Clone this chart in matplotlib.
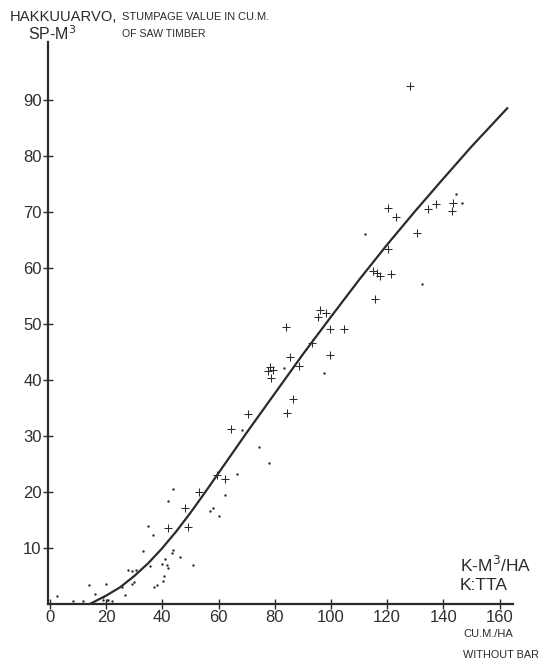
import matplotlib

matplotlib.use("Agg")
import matplotlib.pyplot as plt

plt.rcParams["font.family"] = ["Liberation Sans", "DejaVu Sans"]

# Stands marked with a cross
plus_x = [128.1, 143.5, 143.2, 137.4, 134.4, 120.4, 123.1, 130.5, 120.4, 114.8,
          116.3, 117.4, 121.4, 115.7, 96.1, 98.2, 95.5, 83.9, 99.6, 104.6,
          93.3, 99.6, 85.4, 88.7, 78.3, 77.5, 79.3, 78.5, 86.4, 84.2,
          70.4, 64.3, 62.3, 59.5, 53.0, 48.0, 42.1, 49.2]
plus_y = [92.5, 71.7, 70.2, 71.4, 70.5, 70.8, 69.2, 66.2, 63.4, 59.5,
          59.1, 58.6, 58.9, 54.5, 52.5, 51.9, 51.2, 49.4, 49.2, 49.1,
          46.6, 44.5, 44.1, 42.6, 42.4, 41.6, 41.8, 40.3, 36.7, 34.2,
          34.0, 31.2, 22.3, 23.0, 20.0, 17.1, 13.5, 13.7]

# Stands marked with a dot
dot_x = [146.7, 144.5, 112.1, 132.3, 97.5, 83.3, 68.2, 74.4, 78.0, 66.4,
         62.3, 56.9, 57.9, 60.1, 43.9, 41.9, 35.0, 36.8, 33.0, 43.9,
         43.3, 46.3, 40.9, 40.0, 41.5, 42.1, 51.0, 40.3, 40.6, 38.0,
         37.1, 35.6, 27.9, 29.1, 30.6, 29.3, 30.0, 25.7, 26.7, 13.9,
         19.9, 16.0, 19.0, 20.2, 19.0, 20.7, 22.0, 11.9, 8.1, 2.4]
dot_y = [71.7, 73.2, 66.1, 57.1, 41.3, 42.1, 31.1, 28.1, 25.2, 23.2,
         19.5, 16.7, 17.1, 15.7, 20.5, 18.4, 13.9, 12.3, 9.5, 9.6,
         9.1, 8.4, 8.0, 7.1, 7.0, 6.5, 7.0, 4.1, 5.0, 3.4,
         3.0, 6.7, 6.1, 5.9, 6.1, 3.5, 4.0, 3.0, 1.6, 3.4,
         3.6, 1.8, 1.3, 0.7, 0.7, 0.7, 0.6, 0.6, 0.6, 1.4]

# Fitted curve
curve_x = [14.2, 20, 25, 30, 35, 40, 45, 50, 55, 60, 65, 70, 80, 90, 100,
           110, 120, 130, 140, 150, 163]
curve_y = [0.0, 1.5, 3.0, 5.0, 7.3, 10.0, 13.0, 16.3, 19.8, 23.4, 27.0, 30.6,
           37.6, 44.6, 51.3, 57.9, 64.2, 70.2, 76.0, 81.7, 88.7]

x_ticks = [0, 20, 40, 60, 80, 100, 120, 140, 160]
y_ticks = [10, 20, 30, 40, 50, 60, 70, 80, 90]

ink = "#2b2b2b"

fig = plt.figure(figsize=(5.38, 6.61), dpi=100)
ax = fig.add_axes([48 / 538, 57 / 661, 465 / 538, 562 / 661])

ax.plot(curve_x, curve_y, color=ink, lw=1.6, solid_capstyle="butt")
ax.scatter(plus_x, plus_y, marker="+", s=30, color=ink, linewidths=0.75)
ax.scatter(dot_x, dot_y, marker="o", s=3, color=ink, linewidths=0)

ax.set_xlim(-0.7, 164.8)
ax.set_ylim(0, 100.4)
ax.set_xticks(x_ticks)
ax.set_yticks(y_ticks)
for s in ("top", "right"):
    ax.spines[s].set_visible(False)
for s in ("left", "bottom"):
    ax.spines[s].set_color(ink)
    ax.spines[s].set_linewidth(1.6)
ax.tick_params(direction="inout", length=7, width=1.0, color=ink,
               labelsize=12, labelcolor="#2f2f2f", pad=1)

# Axis titles
fig.text(10 / 538, 1 - 17 / 661, "HAKKUUARVO,", fontsize=10.6, color=ink,
         va="center", ha="left")
fig.text(28 / 538, 1 - 34 / 661, "SP-M$^3$", fontsize=11.5, color=ink,
         va="center", ha="left")
fig.text(122 / 538, 1 - 17 / 661, "STUMPAGE VALUE IN CU.M.", fontsize=7.9,
         color=ink, va="center", ha="left")
fig.text(122 / 538, 1 - 34 / 661, "OF SAW TIMBER", fontsize=7.6, color=ink,
         va="center", ha="left")

fig.text(460 / 538, 1 - 565 / 661, "K-M$^3$/HA", fontsize=12.5, color=ink,
         va="center", ha="left")
fig.text(460 / 538, 1 - 586 / 661, "K:TTA", fontsize=12.5, color=ink,
         va="center", ha="left")
fig.text(463 / 538, 1 - 634 / 661, "CU.M./HA", fontsize=8, color=ink,
         va="center", ha="left")
fig.text(463 / 538, 1 - 655 / 661, "WITHOUT BAR", fontsize=7.8, color=ink,
         va="center", ha="left")

fig.savefig("out.png", dpi=100, facecolor="white")
